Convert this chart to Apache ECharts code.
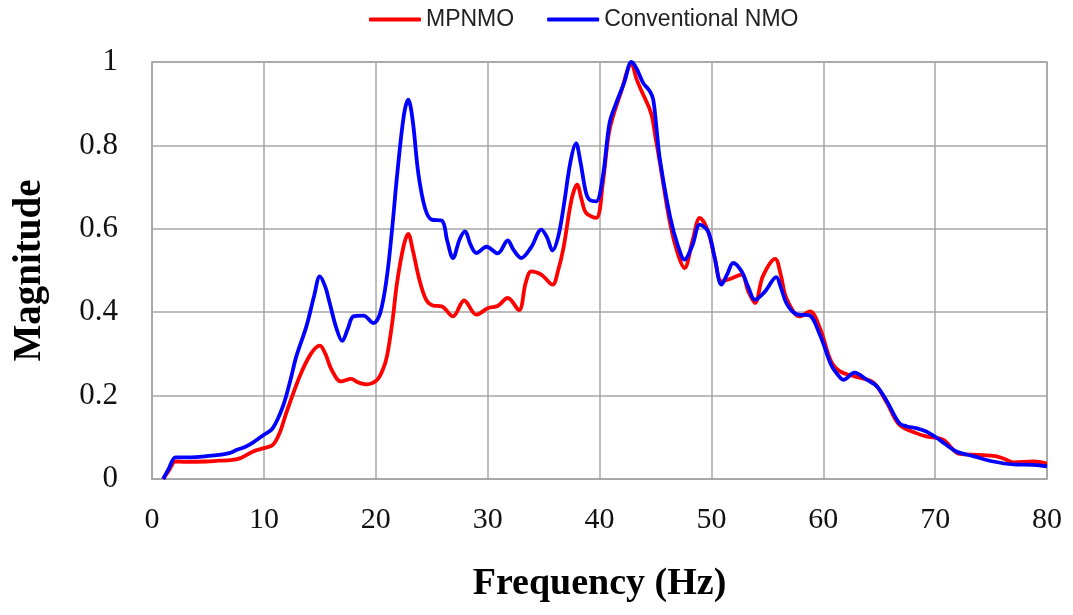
<!DOCTYPE html>
<html>
<head>
<meta charset="utf-8">
<script src="https://cdn.jsdelivr.net/npm/echarts@6/dist/echarts.min.js"></script>
<style>html,body{margin:0;padding:0;background:#fff;}#c{width:1073px;height:615px;}</style>
</head>
<body>
<div id="c"></div>
<script>
const seriesNames = ['MPNMO', 'Conventional NMO'];
const xTicks = [0, 10, 20, 30, 40, 50, 60, 70, 80];
const yTicks = [0, 0.2, 0.4, 0.6, 0.8, 1];

const freqRed = [1.0,1.5,2.1,3.0,4.9,6.0,7.0,7.9,9.05,10.0,10.8,11.4,12.0,13.2,14.2,15.0,15.5,16.05,16.9,17.8,18.4,19.2,20.1,20.6,21.0,21.5,21.9,22.5,22.9,23.3,23.9,24.5,25.1,25.9,26.9,27.9,29.0,30.05,30.9,31.8,32.8,33.4,33.9,34.8,35.8,36.3,36.8,37.5,38.0,38.4,38.8,39.7,40.3,40.9,41.9,42.86,43.3,43.7,44.6,45.0,45.4,46.3,47.0,47.6,48.3,48.97,49.7,50.3,50.9,51.7,52.7,53.3,53.9,54.6,55.7,56.2,56.7,57.9,58.8,59.7,60.7,61.5,62.8,64.5,65.7,66.8,68.3,69.2,70.7,72.2,73.9,75.4,76.2,77.0,78.8,80.0];
const magRed = [0,0.02,0.042,0.041,0.042,0.044,0.045,0.05,0.066,0.074,0.082,0.11,0.158,0.246,0.3,0.32,0.3,0.262,0.234,0.24,0.232,0.227,0.237,0.26,0.294,0.38,0.47,0.56,0.588,0.55,0.478,0.43,0.416,0.414,0.39,0.428,0.394,0.41,0.415,0.434,0.405,0.47,0.498,0.49,0.466,0.5,0.557,0.67,0.706,0.67,0.638,0.626,0.71,0.838,0.926,0.995,0.96,0.934,0.878,0.82,0.758,0.614,0.54,0.506,0.57,0.626,0.594,0.53,0.474,0.48,0.49,0.45,0.422,0.486,0.528,0.49,0.434,0.39,0.402,0.362,0.282,0.258,0.246,0.231,0.182,0.13,0.11,0.102,0.094,0.06,0.058,0.055,0.048,0.04,0.042,0.037];

const freqBlue = [1.0,1.5,2.1,2.8,3.5,4.9,6.0,6.9,7.6,8.4,9.05,10.0,10.8,11.7,12.4,12.9,13.8,14.5,15.0,15.5,15.9,16.5,17.0,17.5,18.0,18.9,19.8,20.4,21.0,21.5,21.9,22.5,22.9,23.3,23.8,24.4,25.0,25.9,26.4,26.9,27.5,27.97,28.5,29.0,29.9,30.9,31.8,32.3,33.0,33.9,34.8,35.3,35.8,36.3,36.8,37.4,37.9,38.3,38.8,39.2,39.7,40.3,40.9,41.5,42.2,42.86,43.3,43.9,44.5,44.8,45.1,45.4,46.3,47.0,47.6,48.3,48.97,49.7,50.3,50.9,51.4,51.95,52.7,53.3,53.9,54.8,55.8,56.2,56.7,57.3,57.8,58.7,59.7,60.7,61.3,61.8,62.8,63.9,64.8,65.7,66.8,67.5,68.3,69.2,70.4,71.9,73.4,75.2,77.0,78.8,80.0];
const magBlue = [0,0.025,0.052,0.052,0.052,0.055,0.058,0.062,0.07,0.078,0.088,0.106,0.122,0.174,0.24,0.294,0.366,0.44,0.486,0.46,0.42,0.36,0.331,0.36,0.39,0.392,0.374,0.398,0.486,0.61,0.726,0.87,0.91,0.86,0.734,0.65,0.622,0.62,0.57,0.53,0.575,0.594,0.56,0.542,0.557,0.541,0.572,0.55,0.53,0.556,0.598,0.58,0.548,0.58,0.654,0.76,0.805,0.76,0.686,0.668,0.666,0.726,0.854,0.902,0.95,1.0,0.985,0.95,0.93,0.91,0.84,0.766,0.63,0.56,0.526,0.56,0.61,0.594,0.53,0.466,0.49,0.518,0.498,0.46,0.43,0.45,0.484,0.46,0.422,0.4,0.394,0.393,0.346,0.274,0.25,0.238,0.255,0.238,0.222,0.186,0.134,0.126,0.122,0.114,0.094,0.066,0.055,0.042,0.035,0.034,0.03];

const pairs = (xs, ys) => xs.map((x, i) => [x, ys[i]]);

const chart = echarts.init(document.getElementById('c'), null, {renderer: 'canvas'});
const gridColor = '#a6a6a6';
chart.setOption({
  animation: false,
  backgroundColor: '#ffffff',
  legend: {
    top: 3,
    left: 364,
    data: seriesNames,
    icon: 'roundRect',
    itemWidth: 52,
    itemHeight: 4,
    itemGap: 33,
    textStyle: {fontFamily: 'Liberation Sans', fontSize: 23, color: '#222'}
  },
  grid: {left: 152, right: 26, top: 62, bottom: 136, show: true, borderColor: gridColor, borderWidth: 1.5},
  xAxis: {
    type: 'value', min: xTicks[0], max: xTicks[xTicks.length - 1], interval: 10,
    name: 'Frequency (Hz)', nameLocation: 'middle', nameGap: 86,
    nameTextStyle: {fontFamily: 'Liberation Serif', fontWeight: 'bold', fontSize: 38, color: '#000'},
    axisLine: {show: true, lineStyle: {color: gridColor, width: 1.5}},
    axisTick: {show: false},
    axisLabel: {margin: 26, fontFamily: 'Liberation Serif', fontSize: 30, color: '#111'},
    splitLine: {show: true, lineStyle: {color: gridColor, width: 1.5}}
  },
  yAxis: {
    type: 'value', min: yTicks[0], max: yTicks[yTicks.length - 1], interval: 0.2,
    name: 'Magnitude', nameLocation: 'middle', nameGap: 103,
    nameTextStyle: {fontFamily: 'Liberation Serif', fontWeight: 'bold', fontSize: 39, color: '#000'},
    axisLine: {show: true, lineStyle: {color: gridColor, width: 1.5}},
    axisTick: {show: false},
    axisLabel: {margin: 34, fontFamily: 'Liberation Serif', fontSize: 31, color: '#111'},
    splitLine: {show: true, lineStyle: {color: gridColor, width: 1.5}}
  },
  series: [
    {name: seriesNames[0], type: 'line', data: pairs(freqRed, magRed), smooth: 0.35, showSymbol: false, symbol: 'none',
     lineStyle: {color: '#ff0000', width: 3.8}, itemStyle: {color: '#ff0000'}},
    {name: seriesNames[1], type: 'line', data: pairs(freqBlue, magBlue), smooth: 0.35, showSymbol: false, symbol: 'none',
     lineStyle: {color: '#0000ff', width: 3.8}, itemStyle: {color: '#0000ff'}}
  ]
});
</script>
</body>
</html>
